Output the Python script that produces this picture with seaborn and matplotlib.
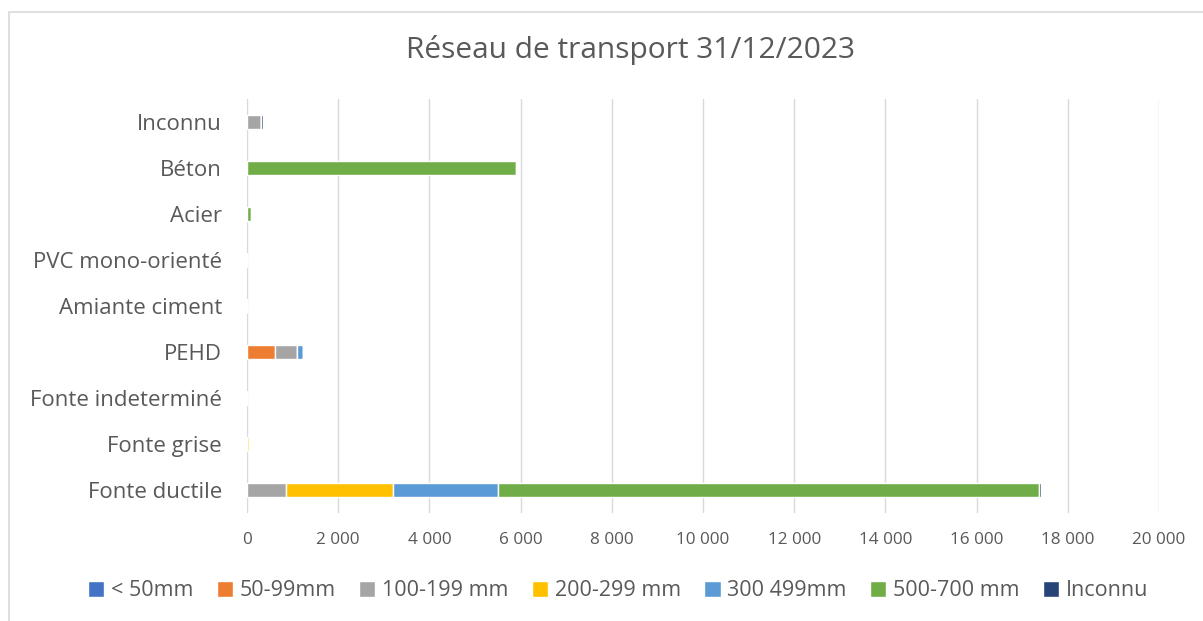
import matplotlib
matplotlib.use("Agg")
import matplotlib.pyplot as plt
import seaborn as sns
import pandas as pd
from matplotlib.patches import Rectangle
from matplotlib.ticker import FuncFormatter

# Materials, listed bottom to top as in the chart
materials = ["Fonte ductile", "Fonte grise", "Fonte indeterminé", "PEHD",
             "Amiante ciment", "PVC mono-orienté", "Acier", "Béton", "Inconnu"]

diameters = ["< 50mm", "50-99mm", "100-199 mm", "200-299 mm",
             "300 499mm", "500-700 mm", "Inconnu"]

# lengths per diameter class, one value per material (same order as materials)
d_lt50 = [0, 0, 0, 0, 0, 0, 0, 0, 0]
d_50_99 = [0, 0, 0, 620, 0, 0, 0, 0, 0]
d_100_199 = [860, 0, 0, 475, 0, 0, 0, 0, 310]
d_200_299 = [2345, 50, 0, 0, 0, 0, 0, 0, 0]
d_300_499 = [2300, 0, 0, 125, 0, 0, 0, 0, 0]
d_500_700 = [11870, 0, 0, 0, 0, 0, 80, 5900, 0]
d_inconnu = [30, 0, 0, 0, 0, 0, 0, 0, 40]

colors = ["#4472C4", "#ED7D31", "#A5A5A5", "#FFC000", "#5B9BD5", "#70AD47", "#264478"]

series = [d_lt50, d_50_99, d_100_199, d_200_299, d_300_499, d_500_700, d_inconnu]
df = pd.DataFrame(dict(zip(diameters, series)), index=materials)

sns.set_style("white")
plt.rcParams["font.family"] = ["Open Sans", "DejaVu Sans"]
text_col = "#595959"

fig = plt.figure(figsize=(12.03, 6.21), dpi=100)
ax = fig.add_axes([247 / 1203, 1 - 513 / 621, (1159 - 247) / 1203, (513 - 99) / 621])

left = pd.Series(0.0, index=materials)
ypos = list(range(len(materials)))
for name, col in zip(diameters, colors):
    ax.barh(ypos, df[name].values, left=left.values, height=0.31,
            color=col, label=name, zorder=3)
    left = left + df[name]

ax.set_xlim(0, 20000)
ax.set_ylim(-0.5, len(materials) - 0.5)
ax.set_yticks(ypos)
ax.set_yticklabels(materials, fontsize=16, color=text_col)
ax.set_xticks(range(0, 20001, 2000))
ax.xaxis.set_major_formatter(FuncFormatter(lambda v, p: f"{int(v):,}".replace(",", " ")))
ax.tick_params(axis="x", labelsize=12.3, colors=text_col, length=0, pad=14)
ax.tick_params(axis="y", length=0, pad=18)
ax.grid(axis="x", color="#D9D9D9", linewidth=1, zorder=0)
for s in ax.spines.values():
    s.set_visible(False)

fig.text(631 / 1203, 1 - 50 / 621, "Réseau de transport 31/12/2023",
         ha="center", va="center", fontsize=21.5, color=text_col)

ax.legend(loc="center", bbox_to_anchor=(618 / 1203, 1 - 591 / 621),
          bbox_transform=fig.transFigure, ncol=7, frameon=False,
          fontsize=15.5, labelcolor=text_col, handlelength=0.75, handleheight=0.75,
          handletextpad=0.3, columnspacing=1.1)

fig.patches.append(Rectangle((9 / 1203, -0.1), 1.2, 1 - 12 / 621 + 0.1,
                             transform=fig.transFigure, fill=False,
                             edgecolor="#D9D9D9", linewidth=1.2))

fig.savefig("out.png", dpi=100)
